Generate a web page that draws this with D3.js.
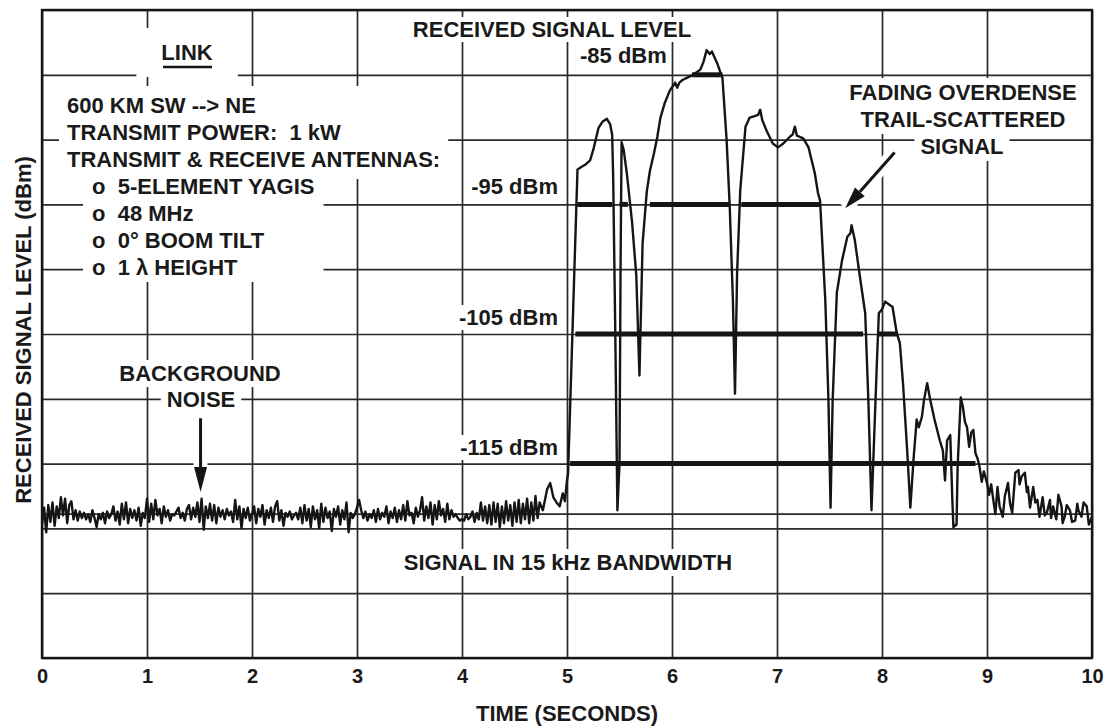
<!DOCTYPE html>
<html>
<head>
<meta charset="utf-8">
<script src="https://cdn.jsdelivr.net/npm/d3@7"></script>
<style>
  body { margin: 0; background: #fff; }
  svg text { font-family: "Liberation Sans", Arial, Helvetica, sans-serif; font-weight: bold; fill: #1a1a1a; }
</style>
</head>
<body>
<svg id="chart" width="1106" height="727"></svg>
<script>
// ---- data ----
const timeTicks = [0, 1, 2, 3, 4, 5, 6, 7, 8, 9, 10];
const levelGrid = [-130, -125, -120, -115, -110, -105, -100, -95, -90, -85, -80];
const noiseFloor = -118.9;

// background noise, one reading every 0.02 s from 0.00 to 4.72 s
const noiseStep = 0.02;
const noiseDbm = [
  -119.6,-118.4,-120.3,-118.2,-119.5,-118.0,-119.8,-118.3,-119.2,-117.6,
  -119.0,-117.7,-119.6,-118.2,-117.9,-119.3,-118.6,-119.4,-118.7,-119.2,
  -118.8,-119.3,-118.9,-119.5,-118.6,-119.2,-119.9,-118.9,-119.3,-118.8,
  -119.6,-118.7,-119.2,-118.9,-118.3,-119.4,-118.7,-119.7,-118.1,-119.3,
  -118.0,-119.6,-118.5,-119.2,-118.6,-119.4,-118.4,-119.8,-118.8,-119.2,
  -117.7,-119.5,-118.1,-119.3,-117.8,-119.0,-118.5,-119.6,-118.3,-119.1,
  -118.6,-119.4,-118.9,-119.0,-118.7,-118.4,-119.2,-118.8,-119.4,-118.5,
  -118.2,-119.3,-118.4,-119.1,-118.0,-119.5,-117.7,-120.1,-118.3,-119.2,
  -118.1,-119.4,-118.2,-119.6,-118.4,-119.1,-118.6,-119.3,-118.5,-119.0,
  -118.7,-119.5,-117.8,-119.3,-118.3,-120.0,-118.5,-119.2,-118.4,-119.4,
  -118.9,-118.3,-119.6,-118.5,-119.1,-118.2,-119.7,-118.6,-119.2,-118.4,
  -119.5,-118.3,-117.9,-119.4,-118.6,-119.8,-118.8,-119.1,-118.7,-119.3,
  -119.0,-118.8,-119.3,-118.4,-119.6,-118.2,-119.4,-118.5,-119.9,-118.3,
  -119.3,-118.6,-120.0,-118.1,-119.5,-118.4,-119.2,-118.7,-120.2,-118.5,
  -119.1,-118.3,-119.7,-118.6,-119.3,-118.0,-120.3,-118.8,-119.2,-118.9,
  -118.4,-117.8,-118.6,-119.2,-118.7,-119.4,-118.9,-119.2,-118.6,-119.5,
  -118.5,-119.3,-118.8,-119.1,-118.3,-119.6,-118.7,-119.2,-118.4,-119.5,
  -118.6,-119.3,-118.2,-119.4,-117.9,-119.0,-118.8,-119.6,-118.4,-119.1,
  -118.6,-117.6,-119.4,-118.3,-119.2,-118.0,-119.7,-118.2,-119.3,-117.9,
  -119.0,-118.5,-119.5,-118.1,-119.3,-118.6,-119.1,-118.9,-119.2,-119.4,
  -119.3,-119.4,-118.9,-119.3,-119.1,-118.7,-119.5,-118.8,-119.3,-118.0,
  -119.4,-118.3,-119.6,-118.2,-119.7,-118.0,-119.5,-118.1,-119.9,-118.3,
  -119.6,-117.9,-119.4,-118.2,-119.8,-118.0,-119.5,-117.8,-119.6,-118.1,
  -119.3,-117.7,-119.6,-118.0,-119.4,-117.5,-119.2
];

// meteor burst and its fading tail (seconds, dBm)
const burstTime = [
  4.74,4.77,4.79,4.81,4.84,4.87,4.90,4.93,4.96,4.98,5.00,5.01,
  5.10,5.14,5.18,5.22,5.25,5.30,5.34,5.38,5.41,5.43,5.44,5.46,5.48,5.50,5.51,
  5.52,5.54,5.57,5.62,5.66,5.69,5.72,5.76,5.79,5.83,5.86,5.89,5.93,5.98,
  6.03,6.05,6.07,6.10,6.15,6.20,6.27,6.30,6.33,6.36,6.38,6.43,6.46,6.48,6.49,
  6.52,6.55,6.58,6.60,6.62,6.65,6.70,6.74,6.78,6.82,6.84,6.86,6.90,6.96,
  7.01,7.06,7.12,7.15,7.17,7.19,7.25,7.30,7.33,7.36,7.39,7.41,7.46,7.49,7.51,
  7.53,7.57,7.62,7.67,7.70,7.71,7.74,7.79,7.84,7.87,7.90,7.95,7.97,
  8.00,8.03,8.08,8.10,8.14,8.17,8.20,8.24,8.27,8.30,8.33,8.35,8.38,8.40,8.43,
  8.46,8.50,8.55,8.58,8.60,8.62,8.65,8.67,8.68,8.71,8.72,8.75,8.77,8.79,8.81,
  8.83,8.85,8.87,8.89,8.91,8.93,8.95,8.97,9.00,9.02,9.04,9.06,9.08,9.10,9.12,
  9.15,9.17,9.20,9.22,9.24,9.27,9.30,9.31,9.33,9.36,9.38,9.39,9.41,9.44,9.46,
  9.48,9.50,9.53,9.55,9.57,9.60,9.61,9.63,9.66,9.68,9.71,9.72,9.74,9.76,9.79,
  9.81,9.84,9.86,9.87,9.90,9.92,9.95,9.97,10.00
];
const burstDbm = [
  -118.0,-118.6,-117.8,-117.0,-116.5,-117.6,-118.0,-118.3,-117.3,-117.9,-116.3,-115.8,
  -92.3,-92.1,-91.9,-91.6,-90.8,-89.1,-88.6,-88.4,-88.8,-89.6,-93.0,-105.0,-118.6,-115.0,-100.0,
  -90.2,-90.8,-92.6,-96.4,-100.5,-108.2,-98.0,-94.0,-92.4,-91.0,-89.8,-88.3,-87.2,-86.2,
  -85.6,-86.0,-85.6,-85.4,-85.2,-85.0,-84.6,-84.0,-83.1,-83.4,-83.2,-84.1,-84.8,-85.2,-86.4,
  -90.0,-95.2,-102.4,-109.6,-100.3,-93.9,-89.0,-88.3,-88.2,-88.1,-87.7,-88.5,-89.3,-90.3,
  -90.6,-90.3,-89.8,-89.6,-89.0,-89.7,-89.9,-90.6,-91.6,-92.6,-94.1,-94.7,-102.4,-110.1,-118.4,
  -110.1,-101.8,-99.3,-97.5,-97.2,-96.6,-97.7,-100.6,-103.4,-110.1,-118.6,-107.5,-103.4,
  -103.1,-102.5,-102.8,-102.9,-104.9,-105.7,-108.8,-114.0,-118.4,-114.7,-111.6,-112.2,-111.4,-110.1,-108.8,
  -110.1,-111.6,-113.2,-114.0,-116.3,-113.2,-112.8,-117.8,-119.9,-119.7,-115.3,-109.9,-110.6,-111.8,-112.2,
  -113.7,-112.6,-112.4,-114.2,-114.6,-115.3,-116.4,-115.6,-116.5,-117.4,-116.6,-117.8,-118.9,-116.8,-118.3,
  -119.1,-117.5,-116.5,-118.1,-118.8,-115.7,-115.5,-116.6,-116.0,-115.7,-117.2,-116.8,-118.4,-116.8,-118.0,
  -117.8,-119.1,-117.6,-119.0,-118.8,-117.8,-119.2,-118.3,-119.3,-117.4,-118.3,-119.6,-119.1,-118.2,-118.6,
  -119.5,-119.4,-118.1,-118.6,-119.1,-118.0,-118.3,-119.7,-119.1
];

// time spans above each threshold level (seconds)
const thresholds = [-85, -95, -105, -115];
const thresholdSpans = [
  [[6.19, 6.48]],
  [[5.10, 5.43], [5.50, 5.58], [5.79, 6.55], [6.66, 7.41]],
  [[5.08, 7.82], [7.96, 8.15]],
  [[5.03, 8.89]]
];

// ---- drawing ----
const W = 1106, H = 727;
const margin = { top: 10, right: 14, bottom: 69, left: 42 };
const svg = d3.select('#chart');
const ink = '#151515';

const x = d3.scaleLinear().domain([0, 10]).range([margin.left, W - margin.right]);
const y = d3.scaleLinear().domain([-130, -80]).range([H - margin.bottom, margin.top]);
const plotW = x(10) - x(0), plotH = y(-130) - y(-80);

const gGrid = svg.append('g');
gGrid.append('g')
  .attr('transform', `translate(0,${y(-130)})`)
  .call(d3.axisBottom(x).tickValues(timeTicks).tickSize(-plotH).tickFormat(''))
  .call(g => g.select('.domain').remove())
  .call(g => g.selectAll('line').attr('stroke', '#2a2a2a').attr('stroke-width', 1.7));
gGrid.append('g')
  .attr('transform', `translate(${x(0)},0)`)
  .call(d3.axisLeft(y).tickValues(levelGrid).tickSize(-plotW).tickFormat(''))
  .call(g => g.select('.domain').remove())
  .call(g => g.selectAll('line').attr('stroke', '#2a2a2a').attr('stroke-width', 1.7));
gGrid.append('line')
  .attr('x1', x(0)).attr('x2', x(10)).attr('y1', y(noiseFloor)).attr('y2', y(noiseFloor))
  .attr('stroke', '#2a2a2a').attr('stroke-width', 1.7);
gGrid.append('rect')
  .attr('x', x(0)).attr('y', y(-80)).attr('width', plotW).attr('height', plotH)
  .attr('fill', 'none').attr('stroke', ink).attr('stroke-width', 2.4);

// tick labels
svg.append('g')
  .attr('transform', `translate(0,${y(-130)})`)
  .call(d3.axisBottom(x).tickValues(timeTicks).tickSize(0).tickPadding(11).tickFormat(d3.format('d')))
  .call(g => g.select('.domain').remove())
  .attr('font-size', 20).attr('color', ink);

const gMask = svg.append('g');
const gMarks = svg.append('g');
const gText = svg.append('g');

// trace
const trace = noiseDbm.map((v, i) => ({ t: i * noiseStep, v }))
  .concat(burstTime.map((t, i) => ({ t, v: burstDbm[i] })));
gMarks.append('path')
  .datum(trace)
  .attr('fill', 'none').attr('stroke', ink).attr('stroke-width', 2.4)
  .attr('stroke-linejoin', 'round')
  .attr('d', d3.line().x(d => x(d.t)).y(d => y(d.v)));

// threshold bars
thresholds.forEach((lvl, i) => {
  gMarks.selectAll(null).data(thresholdSpans[i]).join('line')
    .attr('x1', d => x(d[0])).attr('x2', d => x(d[1]))
    .attr('y1', y(lvl)).attr('y2', y(lvl))
    .attr('stroke', ink).attr('stroke-width', 5);
});

// labels with white paste-up behind them
function label(str, px, py, anchor = 'start', size = 22) {
  return gText.append('text')
    .attr('x', px).attr('y', py).attr('text-anchor', anchor)
    .attr('font-size', size).style('white-space', 'pre').text(str);
}
function paste(nodes, px, py) {
  const bb = nodes.map(n => n.node().getBBox());
  const x0 = d3.min(bb, b => b.x), x1 = d3.max(bb, b => b.x + b.width);
  const y0 = d3.min(bb, b => b.y), y1 = d3.max(bb, b => b.y + b.height);
  gMask.append('rect')
    .attr('x', x0 - px).attr('y', y0 - py)
    .attr('width', x1 - x0 + 2 * px).attr('height', y1 - y0 + 2 * py)
    .attr('fill', '#fff');
}

const linkLabel = label('LINK', 187, 60, 'middle');
paste([linkLabel], 25, 12);
gText.append('line').attr('x1', 163).attr('x2', 212).attr('y1', 67).attr('y2', 67)
  .attr('stroke', ink).attr('stroke-width', 2.5);

const headLines = [
  label('600 KM SW --> NE', 67, 113),
  label('TRANSMIT POWER:  1 kW', 67, 140),
  label('TRANSMIT & RECEIVE ANTENNAS:', 67, 167)
];
paste(headLines, 8, 7);
const bulletLines = [
  label('o  5-ELEMENT YAGIS', 92, 194),
  label('o  48 MHz', 92, 221),
  label('o  0° BOOM TILT', 92, 248),
  label('o  1 λ HEIGHT', 92, 275)
];
paste(bulletLines, 9, 2);

const titleLabel = label('RECEIVED SIGNAL LEVEL', 552, 37, 'middle');
paste([titleLabel], 3, 0);
const lvlLabels = [
  label('-85 dBm', 580, 63),
  label('-95 dBm', 558, 194, 'end'),
  label('-105 dBm', 558, 325, 'end'),
  label('-115 dBm', 558, 455, 'end')
];
lvlLabels.forEach(l => paste([l], 3, 0));

const bgLabels = [label('BACKGROUND', 200, 381, 'middle'), label('NOISE', 201, 407, 'middle')];
bgLabels.forEach(l => paste([l], 6, 1));

const fadeLabels = [
  label('FADING OVERDENSE', 963, 100, 'middle'),
  label('TRAIL-SCATTERED', 963, 127, 'middle'),
  label('SIGNAL', 962, 154, 'middle')
];
fadeLabels.forEach(l => paste([l], 6, 2));

const bwLabel = label('SIGNAL IN 15 kHz BANDWIDTH', 568, 570, 'middle');
paste([bwLabel], 4, 1);

label('TIME (SECONDS)', 567, 721, 'middle');
gText.append('text')
  .attr('transform', 'translate(31,330) rotate(-90)')
  .attr('text-anchor', 'middle').attr('font-size', 22)
  .text('RECEIVED SIGNAL LEVEL (dBm)');

// arrows
function arrow(t0, v0, t1, v1, len, half) {
  const ax = x(t0), ay = y(v0), bx = x(t1), by = y(v1);
  const ang = Math.atan2(by - ay, bx - ax);
  const ux = Math.cos(ang), uy = Math.sin(ang);
  const hx = bx - ux * len, hy = by - uy * len;
  const pts = [[bx, by], [hx - uy * half, hy + ux * half], [hx + uy * half, hy - ux * half]];
  gMask.append('line').attr('x1', ax).attr('y1', ay).attr('x2', bx).attr('y2', by)
    .attr('stroke', '#fff').attr('stroke-width', 14);
  gText.append('line').attr('x1', ax).attr('y1', ay).attr('x2', hx).attr('y2', hy)
    .attr('stroke', ink).attr('stroke-width', 3);
  gText.append('polygon').attr('points', pts.map(p => p.join(',')).join(' ')).attr('fill', ink);
}
arrow(1.51, -111.5, 1.51, -117.2, 25, 6.5);
arrow(8.12, -91.0, 7.65, -95.3, 22, 6.5);
</script>
</body>
</html>
